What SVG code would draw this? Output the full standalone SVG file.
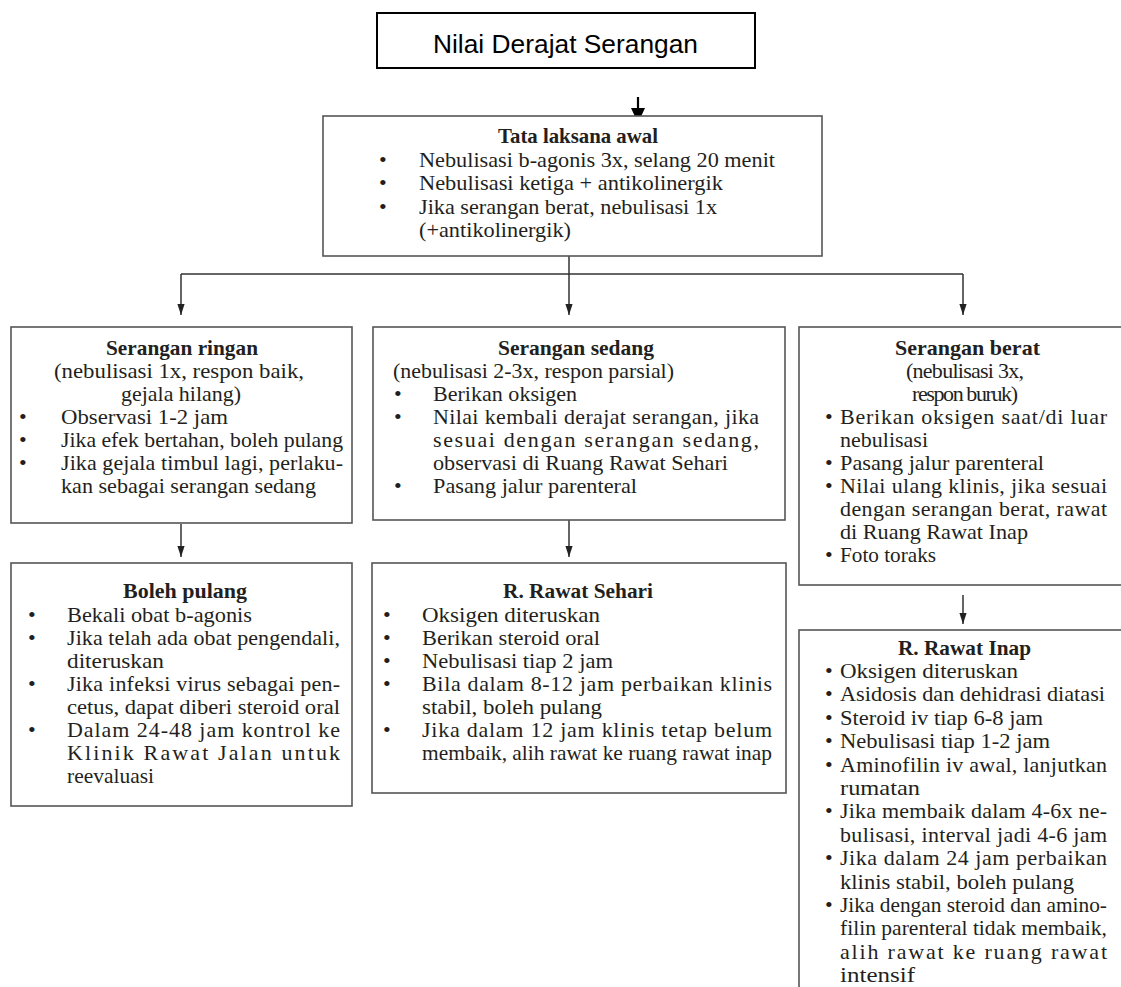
<svg xmlns="http://www.w3.org/2000/svg" width="1121" height="987" viewBox="0 0 1121 987">
<style>
.box{fill:#fff;stroke:#555;stroke-width:1.6}
.top{fill:#fff;stroke:#000;stroke-width:2}
.t{font-family:"Liberation Serif","Times New Roman",serif;font-size:22px;fill:#231f20}
.h{font-weight:bold}
.s{font-family:"Liberation Sans",Arial,sans-serif;font-size:26px;fill:#000}
.c{stroke:#333;stroke-width:1.5;fill:none}
.cb{stroke:#000;stroke-width:2.2;fill:none}
</style>
<defs>
<marker id="ah" viewBox="0 -4 11 8" refX="11" refY="0" markerWidth="11" markerHeight="8" markerUnits="userSpaceOnUse" orient="auto">
<path d="M0,-3.6 L11,0 L0,3.6 z" fill="#222"/>
</marker>
<marker id="ahb" viewBox="0 -7 15 14" refX="15" refY="0" markerWidth="15" markerHeight="14" markerUnits="userSpaceOnUse" orient="auto">
<path d="M0,-7 L15,0 L0,7 z" fill="#000"/>
</marker>
</defs>
<rect width="1121" height="987" fill="#fff"/>

<g id="connectors">
<line class="cb" x1="638" y1="97" x2="638" y2="123" marker-end="url(#ahb)"/>
<line class="c" x1="569" y1="256" x2="569" y2="315" marker-end="url(#ah)"/>
<line class="c" x1="181" y1="274" x2="963" y2="274"/>
<line class="c" x1="181" y1="274" x2="181" y2="315" marker-end="url(#ah)"/>
<line class="c" x1="963" y1="274" x2="963" y2="315" marker-end="url(#ah)"/>
<line class="c" x1="181" y1="524" x2="181" y2="557" marker-end="url(#ah)"/>
<line class="c" x1="569" y1="520" x2="569" y2="557" marker-end="url(#ah)"/>
<line class="c" x1="963" y1="595" x2="963" y2="624" marker-end="url(#ah)"/>
</g>

<g id="nilai">
<rect class="top" x="377" y="13" width="378" height="55"/>
<text class="s" x="433" y="53" textLength="265" lengthAdjust="spacingAndGlyphs">Nilai Derajat Serangan</text>
</g>

<g id="tata">
<rect class="box" x="323" y="116" width="499" height="140"/>
<text class="t h" x="498" y="143" textLength="160" lengthAdjust="spacingAndGlyphs">Tata laksana awal</text>
<text class="t" x="379" y="166.5">•</text>
<text class="t" x="419" y="166.5" textLength="356" lengthAdjust="spacingAndGlyphs">Nebulisasi b-agonis 3x, selang 20 menit</text>
<text class="t" x="379" y="190">•</text>
<text class="t" x="419" y="190" textLength="304" lengthAdjust="spacingAndGlyphs">Nebulisasi ketiga + antikolinergik</text>
<text class="t" x="379" y="213.5">•</text>
<text class="t" x="419" y="213.5" textLength="298" lengthAdjust="spacingAndGlyphs">Jika serangan berat, nebulisasi 1x</text>
<text class="t" x="419" y="237" textLength="152" lengthAdjust="spacingAndGlyphs">(+antikolinergik)</text>
</g>

<g id="ringan">
<rect class="box" x="11" y="327" width="341" height="196"/>
<text class="t h" x="106" y="355" textLength="152" lengthAdjust="spacingAndGlyphs">Serangan ringan</text>
<text class="t" x="54" y="378" textLength="250" lengthAdjust="spacingAndGlyphs">(nebulisasi 1x, respon baik,</text>
<text class="t" x="121" y="401" textLength="120" lengthAdjust="spacingAndGlyphs">gejala hilang)</text>
<text class="t" x="19" y="424">•</text>
<text class="t" x="61" y="424" textLength="167" lengthAdjust="spacingAndGlyphs">Observasi 1-2 jam</text>
<text class="t" x="19" y="447">•</text>
<text class="t" x="61" y="447" textLength="282" lengthAdjust="spacingAndGlyphs">Jika efek bertahan, boleh pulang</text>
<text class="t" x="19" y="470">•</text>
<text class="t" x="61" y="470" textLength="282" lengthAdjust="spacing">Jika gejala timbul lagi, perlaku-</text>
<text class="t" x="61" y="493" textLength="255" lengthAdjust="spacingAndGlyphs">kan sebagai serangan sedang</text>
</g>

<g id="sedang">
<rect class="box" x="373" y="327" width="412" height="193"/>
<text class="t h" x="498" y="355" textLength="156" lengthAdjust="spacingAndGlyphs">Serangan sedang</text>
<text class="t" x="393" y="378" textLength="281" lengthAdjust="spacingAndGlyphs">(nebulisasi 2-3x, respon parsial)</text>
<text class="t" x="394" y="401">•</text>
<text class="t" x="433" y="401" textLength="144" lengthAdjust="spacingAndGlyphs">Berikan oksigen</text>
<text class="t" x="394" y="424">•</text>
<text class="t" x="433" y="424" textLength="326" lengthAdjust="spacing">Nilai kembali derajat serangan, jika</text>
<text class="t" x="433" y="447" textLength="326" lengthAdjust="spacing">sesuai dengan serangan sedang,</text>
<text class="t" x="433" y="470" textLength="295" lengthAdjust="spacingAndGlyphs">observasi di Ruang Rawat Sehari</text>
<text class="t" x="394" y="493">•</text>
<text class="t" x="433" y="493" textLength="204" lengthAdjust="spacingAndGlyphs">Pasang jalur parenteral</text>
</g>

<g id="berat">
<rect class="box" x="799" y="327" width="340" height="258"/>
<text class="t h" x="895" y="355" textLength="145" lengthAdjust="spacingAndGlyphs">Serangan berat</text>
<text class="t" x="906" y="378" textLength="118" lengthAdjust="spacing">(nebulisasi 3x,</text>
<text class="t" x="912" y="401" textLength="106" lengthAdjust="spacing">respon buruk)</text>
<text class="t" x="825" y="424">•</text>
<text class="t" x="840" y="424" textLength="267" lengthAdjust="spacing">Berikan oksigen saat/di luar</text>
<text class="t" x="840" y="447" textLength="88" lengthAdjust="spacingAndGlyphs">nebulisasi</text>
<text class="t" x="825" y="470">•</text>
<text class="t" x="840" y="470" textLength="204" lengthAdjust="spacingAndGlyphs">Pasang jalur parenteral</text>
<text class="t" x="825" y="493">•</text>
<text class="t" x="840" y="493" textLength="267" lengthAdjust="spacing">Nilai ulang klinis, jika sesuai</text>
<text class="t" x="840" y="516" textLength="267" lengthAdjust="spacing">dengan serangan berat, rawat</text>
<text class="t" x="840" y="539" textLength="188" lengthAdjust="spacingAndGlyphs">di Ruang Rawat Inap</text>
<text class="t" x="825" y="562">•</text>
<text class="t" x="840" y="562" textLength="96" lengthAdjust="spacingAndGlyphs">Foto toraks</text>
</g>

<g id="boleh">
<rect class="box" x="11" y="563" width="341" height="243"/>
<text class="t h" x="123" y="598" textLength="124" lengthAdjust="spacingAndGlyphs">Boleh pulang</text>
<text class="t" x="28" y="622">•</text>
<text class="t" x="67" y="622" textLength="185" lengthAdjust="spacingAndGlyphs">Bekali obat b-agonis</text>
<text class="t" x="28" y="645">•</text>
<text class="t" x="67" y="645" textLength="273" lengthAdjust="spacing">Jika telah ada obat pengendali,</text>
<text class="t" x="67" y="668" textLength="97" lengthAdjust="spacingAndGlyphs">diteruskan</text>
<text class="t" x="28" y="691">•</text>
<text class="t" x="67" y="691" textLength="273" lengthAdjust="spacing">Jika infeksi virus sebagai pen-</text>
<text class="t" x="67" y="714" textLength="273" lengthAdjust="spacingAndGlyphs">cetus, dapat diberi steroid oral</text>
<text class="t" x="28" y="737">•</text>
<text class="t" x="67" y="737" textLength="273" lengthAdjust="spacing">Dalam 24-48 jam kontrol ke</text>
<text class="t" x="67" y="760" textLength="273" lengthAdjust="spacing">Klinik Rawat Jalan untuk</text>
<text class="t" x="67" y="783" textLength="87" lengthAdjust="spacingAndGlyphs">reevaluasi</text>
</g>

<g id="sehari">
<rect class="box" x="372" y="563" width="414" height="230"/>
<text class="t h" x="503" y="598" textLength="150" lengthAdjust="spacingAndGlyphs">R. Rawat Sehari</text>
<text class="t" x="383" y="622">•</text>
<text class="t" x="422" y="622" textLength="178" lengthAdjust="spacingAndGlyphs">Oksigen diteruskan</text>
<text class="t" x="383" y="645">•</text>
<text class="t" x="422" y="645" textLength="178" lengthAdjust="spacingAndGlyphs">Berikan steroid oral</text>
<text class="t" x="383" y="668">•</text>
<text class="t" x="422" y="668" textLength="191" lengthAdjust="spacingAndGlyphs">Nebulisasi tiap 2 jam</text>
<text class="t" x="383" y="691">•</text>
<text class="t" x="422" y="691" textLength="350" lengthAdjust="spacing">Bila dalam 8-12 jam perbaikan klinis</text>
<text class="t" x="422" y="714" textLength="180" lengthAdjust="spacingAndGlyphs">stabil, boleh pulang</text>
<text class="t" x="383" y="737">•</text>
<text class="t" x="422" y="737" textLength="350" lengthAdjust="spacing">Jika dalam 12 jam klinis tetap belum</text>
<text class="t" x="422" y="760" textLength="350" lengthAdjust="spacingAndGlyphs">membaik, alih rawat ke ruang rawat inap</text>
</g>

<g id="inap">
<rect class="box" x="799" y="630" width="340" height="400"/>
<text class="t h" x="898" y="655" textLength="133" lengthAdjust="spacingAndGlyphs">R. Rawat Inap</text>
<text class="t" x="825" y="678">•</text>
<text class="t" x="840" y="678" textLength="178" lengthAdjust="spacingAndGlyphs">Oksigen diteruskan</text>
<text class="t" x="825" y="701.4">•</text>
<text class="t" x="840" y="701.4" textLength="265" lengthAdjust="spacingAndGlyphs">Asidosis dan dehidrasi diatasi</text>
<text class="t" x="825" y="724.8">•</text>
<text class="t" x="840" y="724.8" textLength="203" lengthAdjust="spacingAndGlyphs">Steroid iv tiap 6-8 jam</text>
<text class="t" x="825" y="748.2">•</text>
<text class="t" x="840" y="748.2" textLength="210" lengthAdjust="spacingAndGlyphs">Nebulisasi tiap 1-2 jam</text>
<text class="t" x="825" y="771.6">•</text>
<text class="t" x="840" y="771.6" textLength="267" lengthAdjust="spacing">Aminofilin iv awal, lanjutkan</text>
<text class="t" x="840" y="795" textLength="80" lengthAdjust="spacingAndGlyphs">rumatan</text>
<text class="t" x="825" y="818.4">•</text>
<text class="t" x="840" y="818.4" textLength="267" lengthAdjust="spacing">Jika membaik dalam 4-6x ne-</text>
<text class="t" x="840" y="841.8" textLength="267" lengthAdjust="spacing">bulisasi, interval jadi 4-6 jam</text>
<text class="t" x="825" y="865.2">•</text>
<text class="t" x="840" y="865.2" textLength="267" lengthAdjust="spacing">Jika dalam 24 jam perbaikan</text>
<text class="t" x="840" y="888.6" textLength="234" lengthAdjust="spacingAndGlyphs">klinis stabil, boleh pulang</text>
<text class="t" x="825" y="912">•</text>
<text class="t" x="840" y="912" textLength="267" lengthAdjust="spacingAndGlyphs">Jika dengan steroid dan amino-</text>
<text class="t" x="840" y="935.4" textLength="267" lengthAdjust="spacingAndGlyphs">filin parenteral tidak membaik,</text>
<text class="t" x="840" y="958.8" textLength="267" lengthAdjust="spacing">alih rawat ke ruang rawat</text>
<text class="t" x="840" y="982.2" textLength="75" lengthAdjust="spacingAndGlyphs">intensif</text>
</g>
</svg>
